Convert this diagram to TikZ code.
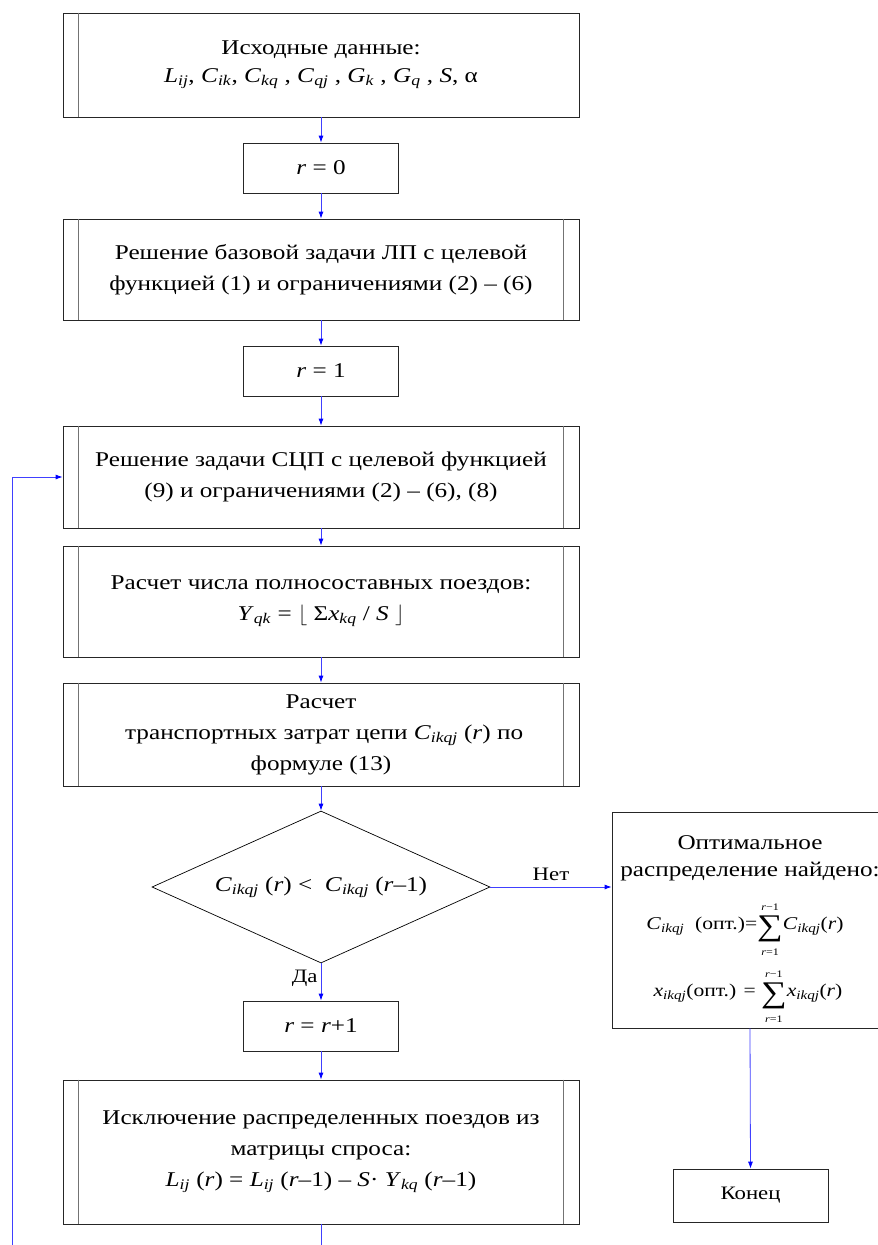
\documentclass[tikz,border=0pt]{standalone}
\usepackage{fontspec}
\setmainfont{Liberation Serif}[FakeStretch=1.2]
\usetikzlibrary{shapes.geometric,arrows.meta}
\newcommand{\iv}[1]{\textit{#1}}
\newcommand{\isb}[1]{\textsubscript{\textit{#1}}}
\newcommand{\limup}[1]{\mbox{\fontsize{10}{10}\selectfont #1\rule[-4pt]{0pt}{4pt}}}
\newcommand{\limdn}[1]{\mbox{\fontsize{10}{10}\selectfont\rule{0pt}{12pt}#1}}
\newcommand{\sumlim}{\ensuremath{\mathop{\raisebox{-6pt}{\fontsize{30}{30}\selectfont ∑}}\limits^{\limup{\iv{r}−1}}_{\limdn{\iv{r}=1}}}}
\begin{document}
\begin{tikzpicture}[x=1pt,y=-1pt,
  box/.style={draw=black!85, line width=0.8pt, inner sep=0pt, align=center,
    font=\fontsize{21}{31}\selectfont},
  bigbox/.style={box, minimum width=516pt},
  smallbox/.style={box, minimum width=155pt, minimum height=50pt},
  dia/.style={diamond, draw=black, line width=0.7pt, inner sep=0pt, aspect=2.22,
    minimum width=338pt, minimum height=152pt, font=\fontsize{21}{26}\selectfont},
  innerl/.style={draw=black!55, line width=0.8pt},
  conn/.style={draw=blue!75!white, line width=0.8pt, -{Latex[length=7pt,width=5pt,fill=blue,color=blue]}},
  plain/.style={draw=blue!75!white, line width=0.8pt},
  lbl/.style={font=\fontsize{19}{22}\selectfont, inner sep=0pt},
  txt/.style={align=center, inner sep=0pt, font=\fontsize{21}{27}\selectfont},
  ftxt/.style={align=center, inner sep=0pt, font=\fontsize{18}{22}\selectfont}
]
\useasboundingbox[fill=white] (0,0) rectangle (878,1245);

\node[bigbox, minimum height=104pt, font=\fontsize{21}{28}\selectfont] (b1) at (321,65)
  {Исходные данные:\\ \iv{L}\isb{ij}, \iv{C}\isb{ik}, \iv{C}\isb{kq} , \iv{C}\isb{qj} , \iv{G}\isb{k} , \iv{G}\isb{q} , \iv{S}, α};
\node[smallbox] (r0) at (321,168) {\iv{r} = 0};
\node[bigbox, minimum height=101pt] (b3) at (321,269.5)
  {Решение базовой задачи ЛП с целевой\\функцией (1) и ограничениями (2) – (6)};
\node[smallbox] (r1) at (321,371) {\iv{r} = 1};
\node[bigbox, minimum height=102pt] (b5) at (321,477)
  {Решение задачи СЦП с целевой функцией\\(9) и ограничениями (2) – (6), (8)};
\node[bigbox, minimum height=111pt] (b6) at (321,601.5)
  {Расчет числа полносоставных поездов:\\ \iv{Y}\isb{qk} = $\lfloor$ Σ\iv{x}\isb{kq} / \iv{S} $\rfloor$};
\node[bigbox, minimum height=103pt] (b7) at (321,734.5)
  {Расчет\\ \ транспортных затрат цепи \iv{C}\isb{ikqj} (\iv{r}) по\\формуле (13)};
\node[dia] (d) at (321,887) {\iv{C}\isb{ikqj} (\iv{r}) <\ \ \iv{C}\isb{ikqj} (\iv{r}–1)};
\node[smallbox] (rr) at (321,1026) {\iv{r} = \iv{r}+1};
\node[bigbox, minimum height=144pt] (b8) at (321,1152)
  {Исключение распределенных поездов из\\матрицы спроса:\\ \iv{L}\isb{ij} (\iv{r}) = \iv{L}\isb{ij} (\iv{r}–1) – \iv{S}· \iv{Y}\isb{kq} (\iv{r}–1)};

\node[box, minimum width=276pt, minimum height=216pt] (rb) at (750,920) {};
\node[txt] (rbt) at (750,858) {Оптимальное\\распределение найдено:};
\node[ftxt] (f1) at (745,930) {\iv{C}\isb{ikqj}\ \ (опт.)=\sumlim\iv{C}\isb{ikqj}(\iv{r})};
\node[ftxt] (f2) at (748,997) {\iv{x}\isb{ikqj}(опт.) = \sumlim\iv{x}\isb{ikqj}(\iv{r})};
\node[box, minimum width=155pt, minimum height=53pt, font=\fontsize{19}{23}\selectfont] (end) at (750.5,1195.5) {Конец};

% inner lines of predefined-process boxes
\draw[innerl] ([xshift=16pt]b1.north west) -- ([xshift=16pt]b1.south west);
\foreach \b in {b3,b5,b6,b7,b8}{
  \draw[innerl] ([xshift=16pt]\b.north west) -- ([xshift=16pt]\b.south west);
  \draw[innerl] ([xshift=-16pt]\b.north east) -- ([xshift=-16pt]\b.south east);
}

\coordinate (c1) at (321,1245);
\coordinate (c2) at (12,1245);

\draw[conn] (b1.south) -- (r0.north);
\draw[conn] (r0.south) -- (b3.north);
\draw[conn] (b3.south) -- (r1.north);
\draw[conn] (r1.south) -- (b5.north);
\draw[conn] (b5.south) -- (b6.north);
\draw[conn] (b6.south) -- (b7.north);
\draw[conn] (b7.south) -- (d.north);
\draw[conn] (d.east) -- (d.east -| rb.west) node[lbl, pos=0.5, above=6pt] {Нет};
\draw[conn] (d.south) -- (rr.north) node[lbl, pos=0.4, left=3pt] {Да};
\draw[conn] (rr.south) -- (b8.north);
\draw[conn] (rb.south) -- (end.north);
\draw[plain] (b8.south) -- (c1);
\draw[conn] (c2) |- (b5.west);
\end{tikzpicture}
\end{document}
